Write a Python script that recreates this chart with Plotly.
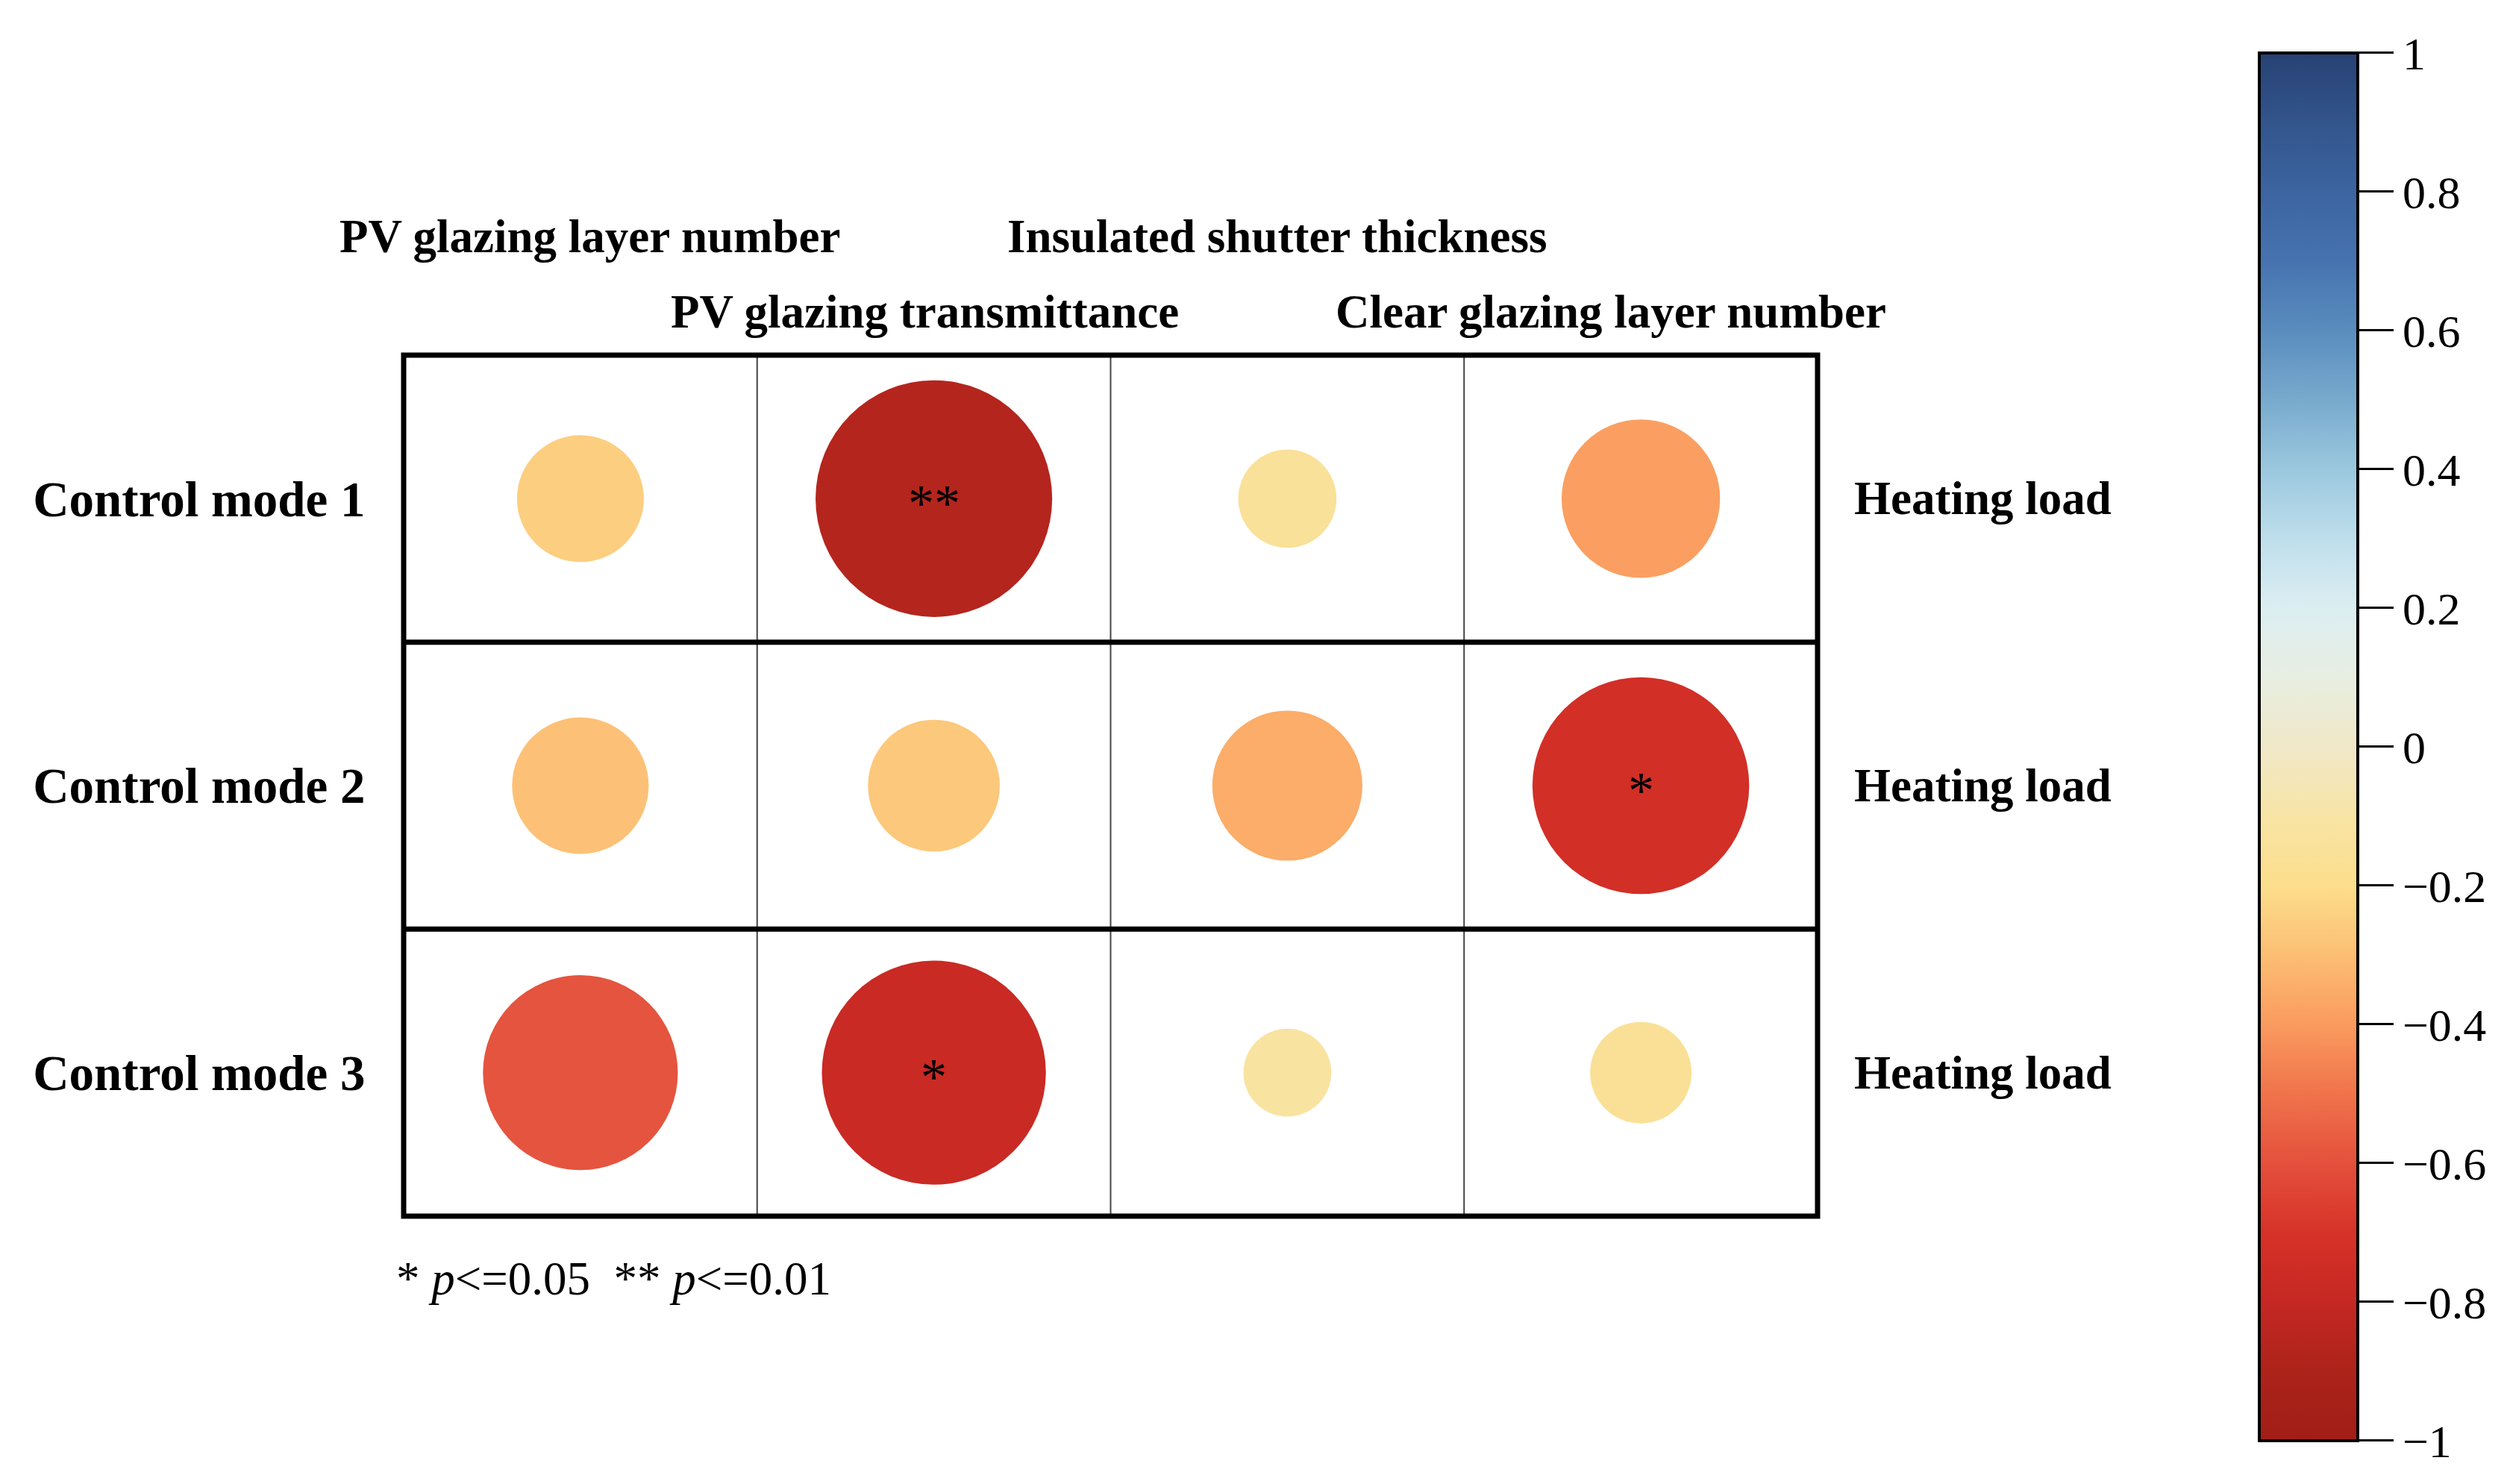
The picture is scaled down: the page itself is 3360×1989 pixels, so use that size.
import plotly.graph_objects as go

# correlation of design parameters with heating load, per control mode
params = ["PV glazing layer number", "PV glazing transmittance",
          "Insulated shutter thickness", "Clear glazing layer number"]
modes = ["Control mode 1", "Control mode 2", "Control mode 3"]
target = ["Heating load", "Heating load", "Heating load"]

r_mode1 = [-0.25, -0.87, -0.15, -0.39]
r_mode2 = [-0.29, -0.27, -0.35, -0.73]
r_mode3 = [-0.59, -0.78, -0.12, -0.16]

sig_mode1 = ["", "**", "", ""]
sig_mode2 = ["", "", "", "*"]
sig_mode3 = ["", "*", "", ""]

cbar_ticks = [-1, -0.8, -0.6, -0.4, -0.2, 0, 0.2, 0.4, 0.6, 0.8, 1]

FONT = "Liberation Serif, Times New Roman, serif"

# page body has an 8px margin, so the figure is sized to fill the rest
W, H = 3352, 1981
XDOM = [0.15901, 0.72434]
YDOM = [0.18122, 0.76376]

colorscale = [
    [0.00, 'rgb(160,30,22)'],
    [0.05, 'rgb(172,35,26)'],
    [0.10, 'rgb(197,40,35)'],
    [0.15, 'rgb(215,50,40)'],
    [0.20, 'rgb(228,80,60)'],
    [0.25, 'rgb(240,115,75)'],
    [0.30, 'rgb(250,155,95)'],
    [0.35, 'rgb(252,190,115)'],
    [0.40, 'rgb(252,222,140)'],
    [0.45, 'rgb(248,228,165)'],
    [0.50, 'rgb(240,232,200)'],
    [0.55, 'rgb(232,238,225)'],
    [0.60, 'rgb(220,238,242)'],
    [0.65, 'rgb(190,222,235)'],
    [0.70, 'rgb(155,200,222)'],
    [0.75, 'rgb(120,170,205)'],
    [0.80, 'rgb(90,140,190)'],
    [0.85, 'rgb(70,115,175)'],
    [0.90, 'rgb(60,100,160)'],
    [0.95, 'rgb(50,85,140)'],
    [1.00, 'rgb(40,65,115)'],
]

rows = [r_mode1, r_mode2, r_mode3]
sigs = [sig_mode1, sig_mode2, sig_mode3]

xs, ys, vals, labels = [], [], [], []
for i, row in enumerate(rows):
    for j, v in enumerate(row):
        xs.append(j)
        ys.append(i)
        vals.append(v)
        labels.append(sigs[i][j])

# full circle (|r| = 1) diameter in px; area proportional to |r|
D = 340

fig = go.Figure()
fig.add_trace(go.Scatter(
    x=xs, y=ys, mode='markers',
    marker=dict(
        size=[abs(v) for v in vals],
        sizemode='area',
        sizeref=2.0 / D ** 2,
        color=vals,
        opacity=1,
        cmin=-1, cmax=1,
        colorscale=colorscale,
        line=dict(width=0),
        showscale=True,
        colorbar=dict(
            x=0.90095, xanchor='left', xpad=0,
            y=0.49874, yanchor='middle', ypad=0,
            len=0.9389, lenmode='fraction',
            thickness=132, thicknessmode='pixels',
            outlinewidth=4, outlinecolor='black',
            ticks='outside', ticklen=46, tickwidth=3, tickcolor='black',
            tickvals=cbar_ticks,
            tickfont=dict(family=FONT, size=62, color='black'),
        ),
    ),
    hoverinfo='skip',
    showlegend=False,
))

# significance stars
for x, y, s in zip(xs, ys, labels):
    if s:
        fig.add_annotation(x=x, y=y, text=s, showarrow=False,
                           xanchor='center', yanchor='middle', yshift=-6,
                           font=dict(family=FONT, size=70, color='black'))

# frame (paper-referenced so it is not clipped) and cell separators
fig.add_shape(type='rect', xref='paper', yref='paper',
              x0=XDOM[0], x1=XDOM[1], y0=YDOM[0], y1=YDOM[1],
              line=dict(color='black', width=7), layer='above')
for k in range(1, len(params)):
    fig.add_shape(type='line', xref='x', yref='y', x0=k - 0.5, x1=k - 0.5,
                  y0=-0.5, y1=2.5, line=dict(color='#444444', width=2), layer='below')
for k in range(1, len(modes)):
    fig.add_shape(type='line', xref='x', yref='y', x0=-0.5, x1=3.5,
                  y0=k - 0.5, y1=k - 0.5, line=dict(color='black', width=7), layer='above')

# column headers, staggered over two lines
header_shift = [13, -12, -13, -40]
for j, p in enumerate(params):
    fig.add_annotation(x=j, y=YDOM[1], xref='x', yref='paper', text=p,
                       showarrow=False, xanchor='center', yanchor='middle',
                       xshift=header_shift[j],
                       yshift=159 if j % 2 == 0 else 58,
                       font=dict(family=FONT, size=63, color='black', weight='bold'))

# right-hand labels
for i, t in enumerate(target):
    fig.add_annotation(x=XDOM[1], y=i, xref='paper', yref='y', text=t,
                       showarrow=False, xanchor='left', yanchor='middle', xshift=47,
                       font=dict(family=FONT, size=63, color='black', weight='bold'))

# footnote
fig.add_annotation(x=(529 - 8) / W, y=1 - (1714 - 8) / H, xref='paper', yref='paper',
                   text="* <i>p</i>&lt;=0.05&nbsp;&nbsp;** <i>p</i>&lt;=0.01",
                   showarrow=False, xanchor='left', yanchor='middle',
                   font=dict(family=FONT, size=63, color='black'))

fig.update_layout(
    width=W, height=H, autosize=False,
    margin=dict(l=0, r=0, t=0, b=0),
    paper_bgcolor='white', plot_bgcolor='white',
    xaxis=dict(domain=XDOM, range=[-0.5, 3.5], showgrid=False,
               zeroline=False, showticklabels=False, fixedrange=True),
    yaxis=dict(domain=YDOM, range=[2.5, -0.5], showgrid=False,
               zeroline=False, tickvals=list(range(len(modes))), ticktext=modes,
               ticks='outside', ticklen=37, tickcolor='rgba(0,0,0,0)',
               tickfont=dict(family=FONT, size=67, color='black', weight='bold'),
               fixedrange=True),
)

fig.write_html("out.html")
